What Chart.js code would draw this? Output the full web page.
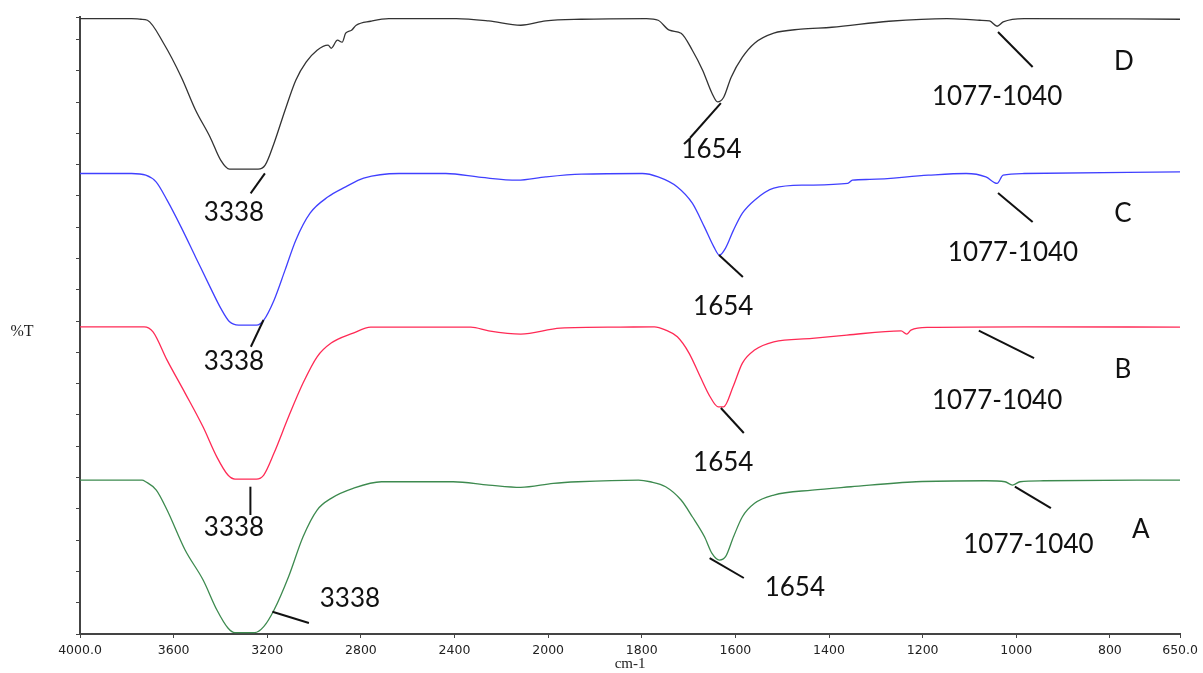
<!DOCTYPE html>
<html>
<head>
<meta charset="utf-8">
<title>FTIR spectra A-D</title>
<script src="https://cdn.jsdelivr.net/npm/chart.js@4.4.1/dist/chart.umd.min.js"></script>
<style>
  html, body { margin: 0; padding: 0; background: #fff; }
  canvas { display: block; }
</style>
</head>
<body>
<canvas id="ftir" width="1203" height="673"></canvas>
<script>
// FTIR spectra of samples A-D, stacked, %T vs wavenumber (cm-1)

// Spectrum D (black)
const wavenumbersD = [4000, 3780, 3740, 3712, 3643, 3567, 3506, 3444, 3399, 3361,
    3239, 3209, 3171, 3124, 3078, 3034, 2987, 2940, 2927, 2900,
    2880, 2865, 2840, 2820, 2758, 2681, 2393, 2254, 2117, 2010,
    1930, 1790, 1765, 1741, 1716, 1692, 1670, 1650, 1638, 1625,
    1609, 1585, 1559, 1518, 1460, 1394, 1272, 1148, 1078, 1057,
    1041, 1028, 983, 650];
const transmittanceD = [98.35, 98.35, 98.24, 98.08, 94.41, 88.98, 83.71, 79.39, 75.72, 74.28,
    74.28, 74.92, 78.43, 83.71, 88.50, 91.37, 93.29, 94.09, 93.61, 94.89,
    94.57, 96.01, 96.49, 97.28, 97.92, 98.35, 98.35, 97.97, 97.28, 97.97,
    98.24, 98.35, 98.08, 96.49, 96.01, 93.29, 90.10, 86.42, 85.03, 85.78,
    88.98, 92.17, 94.41, 96.01, 96.65, 96.96, 97.92, 98.35, 98.08, 97.97,
    97.12, 97.81, 98.35, 98.24];

// Spectrum C (blue)
const wavenumbersC = [4000, 3780, 3719, 3675, 3628, 3568, 3506, 3444, 3399, 3361,
    3322, 3246, 3215, 3171, 3124, 3078, 3017, 2940, 2865, 2788,
    2637, 2437, 2285, 2132, 2010, 1929, 1799, 1765, 1724, 1692,
    1666, 1646, 1634, 1621, 1604, 1585, 1559, 1518, 1452, 1360,
    1350, 1313, 1188, 1107, 1065, 1041, 1028, 983, 650];
const transmittanceC = [73.59, 73.59, 73.32, 72.25, 69.33, 65.02, 60.22, 55.43, 52.08, 49.89,
    49.36, 49.36, 50.16, 53.35, 58.15, 62.94, 67.25, 69.86, 71.45, 72.84,
    73.59, 73.59, 72.96, 72.52, 73.05, 73.48, 73.59, 73.05, 71.45, 68.85,
    65.02, 61.87, 60.54, 61.66, 64.54, 67.25, 69.33, 71.25, 71.73, 72.00,
    72.52, 72.64, 73.32, 73.59, 73.05, 72.00, 73.32, 73.59, 73.85];

// Spectrum B (red)
const wavenumbersB = [4000, 3726, 3688, 3628, 3551, 3474, 3415, 3368, 3338, 3246,
    3215, 3171, 3109, 3047, 2987, 2927, 2833, 2758, 2330, 2254,
    2117, 1974, 1846, 1773, 1749, 1724, 1699, 1675, 1654, 1637,
    1625, 1605, 1585, 1559, 1518, 1436, 1362, 1246, 1234, 1225,
    1188, 983, 650];
const transmittanceB = [49.09, 49.09, 48.29, 43.77, 38.50, 33.07, 28.27, 25.40, 24.76, 24.76,
    25.40, 28.91, 34.71, 40.10, 44.30, 46.49, 48.08, 49.04, 49.04, 48.45,
    47.92, 48.88, 49.04, 49.09, 48.56, 47.49, 44.89, 41.10, 37.91, 36.31,
    36.31, 39.50, 43.29, 45.37, 46.69, 47.24, 47.76, 48.45, 47.92, 48.56,
    48.99, 49.09, 49.04];

// Spectrum A (green)
const wavenumbersA = [4000, 3735, 3719, 3674, 3628, 3551, 3474, 3415, 3368, 3338,
    3254, 3215, 3171, 3109, 3047, 2987, 2927, 2833, 2712, 2406,
    2254, 2117, 1989, 1936, 1807, 1782, 1749, 1716, 1692, 1666,
    1650, 1634, 1621, 1604, 1585, 1559, 1518, 1436, 1353, 1214,
    1065, 1024, 1008, 992, 942, 650];
const transmittanceA = [24.60, 24.60, 24.33, 23.00, 19.81, 13.42, 8.63, 3.83, 0.96, 0.21,
    0.21, 1.17, 3.83, 9.15, 15.54, 19.81, 21.68, 23.27, 24.33, 24.33,
    23.80, 23.43, 24.07, 24.33, 24.60, 24.33, 23.53, 21.41, 18.74, 15.54,
    12.89, 11.82, 12.35, 15.54, 18.74, 20.88, 22.20, 23.00, 23.53, 24.33,
    24.49, 24.33, 23.80, 24.33, 24.49, 24.60];

// Axis ticks
const xTickValues = [4000, 3600, 3200, 2800, 2400, 2000, 1800, 1600, 1400, 1200, 1000, 800, 650];
const xTickLabels = ['4000.0', '3600', '3200', '2800', '2400', '2000', '1800', '1600', '1400', '1200', '1000', '800', '650.0'];
const yTickValues = [0, 5, 10, 15, 20, 25, 30, 35, 40, 45, 50, 55, 60, 65, 70, 75, 80, 85, 90, 95, 98.6];

// Peak annotations (text placed in data units: wavenumber, %T)
const peakTexts = [
    { text: '3338', wn: 3342, t: 67.35 },
    { text: '1654', wn: 1651, t: 77.34 },
    { text: '1077-1040', wn: 1041, t: 85.81 },
    { text: 'D', wn: 770, t: 91.40 },
    { text: '3338', wn: 3342, t: 43.46 },
    { text: '1654', wn: 1626, t: 52.25 },
    { text: '1077-1040', wn: 1007, t: 60.88 },
    { text: 'C', wn: 772, t: 67.11 },
    { text: '3338', wn: 3342, t: 16.94 },
    { text: '1654', wn: 1626, t: 27.33 },
    { text: '1077-1040', wn: 1041, t: 37.23 },
    { text: 'B', wn: 772, t: 42.19 },
    { text: '3338', wn: 2847, t: 5.59 },
    { text: '1654', wn: 1473, t: 7.35 },
    { text: '1077-1040', wn: 974, t: 14.22 },
    { text: 'A', wn: 734, t: 16.62 }
];
const leaderLines = [
    [3210, 73.62, 3271, 70.42],
    [1631, 84.85, 1697, 79.26],
    [1039, 96.20, 965, 90.60],
    [3216, 50.18, 3270, 45.91],
    [1635, 60.56, 1584, 57.05],
    [1039, 70.47, 965, 65.84],
    [3272, 23.54, 3272, 19.02],
    [1631, 36.11, 1582, 32.12],
    [1080, 48.47, 962, 44.10],
    [3178, 3.56, 3022, 1.76],
    [1655, 12.14, 1582, 8.95],
    [1003, 23.54, 926, 20.13]
];

// x axis: 4000-2000 drawn at half scale, 2000-650 at full scale (break at 2000)
const X_START = 4000, X_BREAK = 2000, X_END = 650, HIGH_SQUEEZE = 2;
const SPLIT_SPAN = (X_START - X_BREAK) / HIGH_SQUEEZE + (X_BREAK - X_END);

function splitFraction(wn) {
    const u = wn >= X_BREAK ? (X_START - wn) / HIGH_SQUEEZE : (X_START - X_BREAK) / HIGH_SQUEEZE + (X_BREAK - wn);
    return u / SPLIT_SPAN;
}

const LinearScale = Chart.registry.getScale('linear');
class SplitWavenumberScale extends LinearScale {
    getPixelForValue(value) {
        if (value === null || isNaN(value)) return NaN;
        return this.getPixelForDecimal(splitFraction(value));
    }
    getValueForPixel(pixel) {
        const u = this.getDecimalForPixel(pixel) * SPLIT_SPAN;
        const half = (X_START - X_BREAK) / HIGH_SQUEEZE;
        return u <= half ? X_START - u * HIGH_SQUEEZE : X_BREAK - (u - half);
    }
}
SplitWavenumberScale.id = 'splitWavenumber';
SplitWavenumberScale.defaults = LinearScale.defaults;
Chart.register(SplitWavenumberScale);

function toPoints(xs, ys) {
    return xs.map((x, i) => ({ x: x, y: ys[i] }));
}

function spectrum(label, xs, ys, color) {
    return {
        label: label,
        data: toPoints(xs, ys),
        borderColor: color,
        borderWidth: 1.3,
        pointRadius: 0,
        fill: false,
        cubicInterpolationMode: 'monotone'
    };
}

// Text labels, leader lines and the %T caption
const annotationPlugin = {
    id: 'peakAnnotations',
    afterDatasetsDraw(chart) {
        const ctx = chart.ctx;
        const xs = chart.scales.x, ys = chart.scales.y;
        ctx.save();
        ctx.strokeStyle = '#111';
        ctx.lineWidth = 2;
        leaderLines.forEach(l => {
            ctx.beginPath();
            ctx.moveTo(xs.getPixelForValue(l[0]), ys.getPixelForValue(l[1]));
            ctx.lineTo(xs.getPixelForValue(l[2]), ys.getPixelForValue(l[3]));
            ctx.stroke();
        });
        ctx.fillStyle = '#111';
        ctx.font = '26px Lato, "Open Sans", sans-serif';
        ctx.textAlign = 'center';
        ctx.textBaseline = 'middle';
        peakTexts.forEach(p => {
            ctx.fillText(p.text, xs.getPixelForValue(p.wn), ys.getPixelForValue(p.t));
        });
        ctx.font = '16px "Liberation Serif", serif';
        ctx.fillStyle = '#222';
        ctx.fillText('%T', ys.left + 22, (ys.top + ys.bottom) / 2 + 6);
        ctx.restore();
    }
};

const chart = new Chart(document.getElementById('ftir'), {
    type: 'line',
    data: {
        datasets: [
            spectrum('D', wavenumbersD, transmittanceD, '#333333'),
            spectrum('C', wavenumbersC, transmittanceC, '#4040ff'),
            spectrum('B', wavenumbersB, transmittanceB, '#ff2a55'),
            spectrum('A', wavenumbersA, transmittanceA, '#3d8a4f')
        ]
    },
    options: {
        responsive: false,
        animation: false,
        devicePixelRatio: 1,
        layout: { padding: { left: 0, right: 22, top: 17, bottom: 0 } },
        plugins: { legend: { display: false }, tooltip: { enabled: false } },
        scales: {
            x: {
                type: 'splitWavenumber',
                min: X_END,
                max: X_START,
                afterBuildTicks(scale) { scale.ticks = xTickValues.map(v => ({ value: v })); },
                afterFit(scale) { scale.height = 39; },
                border: { display: true, color: '#444', width: 2 },
                grid: { drawOnChartArea: false, drawTicks: true, tickLength: 4, color: '#444' },
                ticks: {
                    autoSkip: false,
                    maxRotation: 0,
                    padding: 5,
                    color: '#222',
                    font: { family: '"DejaVu Sans", sans-serif', size: 12.5 },
                    callback: (value, index) => xTickLabels[index]
                },
                title: {
                    display: true,
                    text: 'cm-1',
                    color: '#222',
                    font: { family: '"Liberation Serif", serif', size: 15 },
                    padding: { top: 0, bottom: 0 }
                }
            },
            y: {
                type: 'linear',
                min: 0,
                max: 98.6,
                afterBuildTicks(scale) { scale.ticks = yTickValues.map(v => ({ value: v })); },
                afterFit(scale) { scale.width = 80; },
                border: { display: true, color: '#444', width: 2 },
                grid: { drawOnChartArea: false, drawTicks: true, tickLength: 4, color: '#444' },
                ticks: { display: false }
            }
        }
    },
    plugins: [annotationPlugin]
});
</script>
</body>
</html>
